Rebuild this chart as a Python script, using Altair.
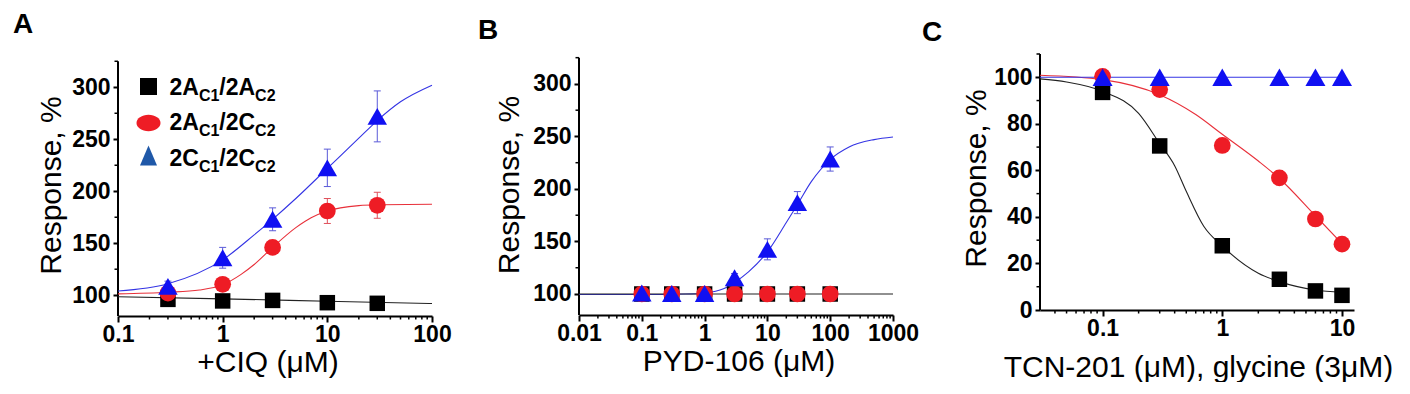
import altair as alt
import pandas as pd

FONT = "Liberation Sans"
BLACK = "#000000"
RED = "#ee1c25"
BLUE = "#1010f2"
BLUE_LEG = "#1f58a8"
RED_LINE = "#e8303a"
BLUE_LINE = "#3434e4"
RED_ERR = "#e0505a"
BLUE_ERR = "#5a5ad8"

# ---------------- Panel A : +CIQ ----------------
A_X = [0.3, 1, 3, 10, 30]
A_BLACK = [96, 94.5, 95, 92.8, 92.2]
A_RED = [102, 110.5, 146, 181, 186.5]
A_RED_ERR = [3, 3, 4, 12, 12.5]
A_BLUE = [108.5, 136, 173, 222.5, 272]
A_BLUE_ERR = [5, 10, 11, 18, 24.5]
A_BLACK_FIT_X = [0.1, 1, 10, 100]
A_BLACK_FIT_Y = [98.5, 96.5, 94.2, 92]
A_RED_FIT_X = [0.1, 0.3, 0.6, 1, 1.5, 2, 3, 5, 7, 10, 20, 30, 100]
A_RED_FIT_Y = [101.3, 102.8, 105, 110, 120, 129.5, 146, 165, 174.5, 181, 186.2, 187, 187.5]
A_BLUE_FIT_X = [0.1, 0.3, 1, 2, 3, 5, 10, 20, 30, 50, 100]
A_BLUE_FIT_Y = [104, 111, 134, 158, 173, 193, 222, 251, 268, 286, 302]
A_XTICKS = [0.1, 1, 10, 100]
A_XMINOR = [0.2, 0.3, 0.4, 0.5, 0.6, 0.7, 0.8, 0.9, 2, 3, 4, 5, 6, 7, 8, 9,
            20, 30, 40, 50, 60, 70, 80, 90]
A_YTICKS = [100, 150, 200, 250, 300]
A_YMINOR = [125, 175, 225, 275, 325]
A_XTITLE = "+CIQ (μM)"

# ---------------- Panel B : PYD-106 ----------------
B_X = [0.1, 0.3, 1, 3, 10, 30, 100]
B_BLACK = [100, 100, 100, 100, 100, 100, 100]
B_RED = [100, 100, 100, 100, 100, 100, 100]
B_RED_ERR = [4, 4, 4, 4, 4, 4, 4]
B_BLUE = [101, 100.5, 100.5, 115.5, 142.5, 187, 228.5]
B_BLUE_ERR = [3, 3, 3, 4, 10, 10.5, 11.5]
B_BLACK_FIT_X = [0.01, 1000]
B_BLACK_FIT_Y = [100, 100]
B_BLUE_FIT_X = [0.01, 0.1, 0.5, 1, 2, 3, 5, 10, 20, 30, 50, 100, 200, 500, 1000]
B_BLUE_FIT_Y = [99.5, 99.5, 100, 101, 105, 111, 121, 140, 168, 185, 207, 228, 240, 247, 249.5]
B_XTICKS = [0.01, 0.1, 1, 10, 100, 1000]
B_XMINOR = [0.02, 0.03, 0.04, 0.05, 0.06, 0.07, 0.08, 0.09,
            0.2, 0.3, 0.4, 0.5, 0.6, 0.7, 0.8, 0.9,
            2, 3, 4, 5, 6, 7, 8, 9, 20, 30, 40, 50, 60, 70, 80, 90,
            200, 300, 400, 500, 600, 700, 800, 900]
B_YTICKS = [100, 150, 200, 250, 300]
B_YMINOR = [125, 175, 225, 275, 325]
B_XTITLE = "PYD-106 (μM)"

# ---------------- Panel C : TCN-201 ----------------
C_X = [0.1, 0.3, 1, 3, 6, 10]
C_BLACK = [93.5, 70.5, 27.6, 13.2, 8.2, 6.3]
C_RED = [100.4, 94.7, 70.7, 56.8, 39.1, 28.3]
C_RED_ERR = [1, 1, 1, 3, 1.5, 1]
C_BLUE = [100, 100, 100, 100, 100, 100]
C_BLACK_FIT_X = [0.03, 0.05, 0.1, 0.2, 0.3, 0.4, 0.5, 0.7, 1, 2, 3, 6, 10]
C_BLACK_FIT_Y = [99.3, 98, 94, 84.5, 71.5, 62, 51, 36, 27.5, 15.8, 12.2, 8.6, 7.6]
C_RED_FIT_X = [0.03, 0.1, 0.3, 0.6, 1, 2, 3, 6, 10]
C_RED_FIT_Y = [100.9, 99, 92.5, 84, 75.5, 64, 56.5, 40.5, 28.5]
C_BLUE_FIT_X = [0.03, 10]
C_BLUE_FIT_Y = [100, 100]
C_XTICKS = [0.1, 1, 10]
C_XMINOR = [0.04, 0.05, 0.06, 0.07, 0.08, 0.09, 0.2, 0.3, 0.4, 0.5, 0.6, 0.7,
            0.8, 0.9, 2, 3, 4, 5, 6, 7, 8, 9]
C_YTICKS = [0, 20, 40, 60, 80, 100]
C_YMINOR = [10, 30, 50, 70, 90, 110]
C_XTITLE = "TCN-201 (μM), glycine (3μM)"

Y_TITLE = "Response, %"
LEGEND_PARTS = [["2A", "C1", "/2A", "C2"],
                ["2A", "C1", "/2C", "C2"],
                ["2C", "C1", "/2C", "C2"]]

ONE = pd.DataFrame({"k": [0]})
ELLIPSE = "M-1,0A1,0.68 0 1,0 1,0A1,0.68 0 1,0 -1,0Z"
TALL_TRI = "M0,-1L0.85,1L-0.85,1Z"
CAP = "M-1,0L1,0"


def build_panel(letter, letter_pos, xdom, ydom, H, yline, xticks, xminor,
                yticks, yminor, xtitle, xtitle_pos, ytitle_pos,
                curves, points, errors, extra=None):
    W = 314
    xs = alt.Scale(type="log", domain=xdom, nice=False)
    ys = alt.Scale(domain=ydom, nice=False, zero=False)
    xaxis = alt.Axis(values=xticks, format="~g", domain=True, domainWidth=2,
                     tickSize=6, tickWidth=2, labelPadding=1, labelFlush=False,
                     labelOverlap=False, title=xtitle, titleX=xtitle_pos[0],
                     titleY=xtitle_pos[1], titleBaseline="alphabetic",
                     titleAlign="center")
    yaxis = alt.Axis(values=yticks, domain=False, tickSize=5, tickWidth=2,
                     labelPadding=3, labelFlush=False, labelOverlap=False,
                     title=Y_TITLE, titleX=ytitle_pos[0], titleY=ytitle_pos[1],
                     titleAngle=270, titleBaseline="middle", titleAlign="center")
    X = alt.X("x:Q", scale=xs, axis=xaxis)
    Y = alt.Y("y:Q", scale=ys, axis=yaxis)

    layers = []
    # y axis line (data range)
    layers.append(alt.Chart(pd.DataFrame({"y": [yline[0]], "y2": [yline[1]]}))
                  .mark_rule(color=BLACK, strokeWidth=2)
                  .encode(x=alt.value(0), y=Y, y2="y2:Q"))
    # minor ticks
    layers.append(alt.Chart(pd.DataFrame({"x": xminor}))
                  .mark_rule(color=BLACK, strokeWidth=1.5)
                  .encode(x=X, y=alt.value(H), y2=alt.value(H + 3.5)))
    layers.append(alt.Chart(pd.DataFrame({"y": yminor}))
                  .mark_rule(color=BLACK, strokeWidth=1.5)
                  .encode(y=Y, x=alt.value(0), x2=alt.value(-3.5)))
    # fitted curves
    for cx, cy, col in curves:
        layers.append(alt.Chart(pd.DataFrame({"x": cx, "y": cy}))
                      .mark_line(color=col, strokeWidth=1.1, interpolate="monotone")
                      .encode(x=X, y=Y))
    # error bars
    for ex, ey, ee, col in errors:
        lo = [v - e for v, e in zip(ey, ee)]
        hi = [v + e for v, e in zip(ey, ee)]
        layers.append(alt.Chart(pd.DataFrame({"x": ex, "y": lo, "y2": hi}))
                      .mark_rule(color=col, strokeWidth=1)
                      .encode(x=X, y=Y, y2="y2:Q"))
        layers.append(alt.Chart(pd.DataFrame({"x": ex + ex, "y": lo + hi}))
                      .mark_point(shape=CAP, size=49, filled=False, color=col,
                                  strokeWidth=1, opacity=1)
                      .encode(x=X, y=Y))
    # data markers
    for px, py, shape, size, col in points:
        layers.append(alt.Chart(pd.DataFrame({"x": px, "y": py}))
                      .mark_point(shape=shape, size=size, filled=True, color=col,
                                  opacity=1, strokeWidth=0)
                      .encode(x=X, y=Y))
    # panel letter
    layers.append(alt.Chart(ONE).mark_text(text=letter, font=FONT, fontSize=28,
                                           fontWeight="bold", align="left",
                                           baseline="alphabetic", color=BLACK)
                  .encode(x=alt.value(letter_pos[0]), y=alt.value(letter_pos[1])))
    if extra:
        layers.extend(extra)
    return alt.layer(*layers).properties(width=W, height=H)


# ---- legend for panel A (positions relative to panel A plot origin) ----
legend_layers = []
# invisible anchor fixing the top-left of the whole figure
legend_layers.append(alt.Chart(ONE).mark_rule(opacity=0, color="white")
                     .encode(x=alt.value(-109.5), x2=alt.value(-108.5),
                             y=alt.value(-45.5), y2=alt.value(-45.5)))
sym_specs = [("square", 289, BLACK, 32.5),
             (ELLIPSE, 576, RED, 69),
             (TALL_TRI, 400, BLUE_LEG, 101.5)]
for shape, size, col, yy in sym_specs:
    legend_layers.append(alt.Chart(ONE).mark_point(shape=shape, size=size, filled=True,
                                                   color=col, opacity=1, strokeWidth=0)
                         .encode(x=alt.value(30.5), y=alt.value(yy)))
piece_dx = [0, 29.4, 49.8, 85.6]
piece_size = [23, 16, 23, 16]
piece_dy = [0, 6, 0, 6]
baselines = [40.5, 76, 111.5]
for parts, base in zip(LEGEND_PARTS, baselines):
    for txt, dx, fs, dy in zip(parts, piece_dx, piece_size, piece_dy):
        legend_layers.append(alt.Chart(ONE).mark_text(text=txt, font=FONT, fontSize=fs,
                                                      fontWeight="bold", align="left",
                                                      baseline="alphabetic", color=BLACK)
                             .encode(x=alt.value(51.5 + dx), y=alt.value(base + dy)))

panel_a = build_panel(
    "A", (-105, -21.5), [0.1, 100], [80, 332], 262, (80, 325),
    A_XTICKS, A_XMINOR, A_YTICKS, A_YMINOR, A_XTITLE, (149.5, 55.5), (-66.5, 131),
    curves=[(A_BLACK_FIT_X, A_BLACK_FIT_Y, "#222222"),
            (A_RED_FIT_X, A_RED_FIT_Y, RED_LINE),
            (A_BLUE_FIT_X, A_BLUE_FIT_Y, BLUE_LINE)],
    points=[(A_X, A_BLACK, "square", 240, BLACK),
            (A_X, A_RED, "circle", 280, RED),
            (A_X, A_BLUE, "triangle-up", 380, BLUE)],
    errors=[(A_X, A_RED, A_RED_ERR, RED_ERR),
            (A_X, A_BLUE, A_BLUE_ERR, BLUE_ERR)],
    extra=legend_layers)

panel_b = build_panel(
    "B", (-101, -15), [0.01, 1000], [80, 328.5], 261, (80, 325),
    B_XTICKS, B_XMINOR, B_YTICKS, B_YMINOR, B_XTITLE, (159.5, 55.5), (-69.5, 130.5),
    curves=[(B_BLUE_FIT_X, B_BLUE_FIT_Y, BLUE_LINE),
            (B_BLACK_FIT_X, B_BLACK_FIT_Y, "#222222")],
    points=[(B_X, B_BLACK, "square", 240, BLACK),
            (B_X, B_RED, "circle", 280, RED),
            (B_X, B_BLUE, "triangle-up", 380, BLUE)],
    errors=[(B_X, B_RED, B_RED_ERR, "#703040"),
            (B_X, B_BLUE, B_BLUE_ERR, BLUE_ERR)])

panel_c = build_panel(
    "C", (-118, -13.5), [0.03, 12.6], [0, 110], 256, (0, 110),
    C_XTICKS, C_XMINOR, C_YTICKS, C_YMINOR, C_XTITLE, (158, 66), (-63.5, 124),
    curves=[(C_BLACK_FIT_X, C_BLACK_FIT_Y, "#222222"),
            (C_RED_FIT_X, C_RED_FIT_Y, RED_LINE),
            (C_BLUE_FIT_X, C_BLUE_FIT_Y, BLUE_LINE)],
    points=[(C_X, C_BLACK, "square", 240, BLACK),
            (C_X, C_RED, "circle", 280, RED),
            (C_X, C_BLUE, "triangle-up", 400, BLUE)],
    errors=[(C_X, C_RED, C_RED_ERR, RED_ERR)])

chart = (alt.hconcat(panel_a, panel_b, panel_c, spacing=147, bounds="flush")
         .properties(padding=0, background="white")
         .configure_view(stroke=None)
         .configure_axis(labelFont=FONT, labelFontSize=23, labelFontWeight="bold",
                         labelColor=BLACK, titleFont=FONT, titleFontSize=30,
                         titleFontWeight="normal", titleColor=BLACK,
                         tickColor=BLACK, domainColor=BLACK, grid=False))

chart.save("out.html", embed_options={"renderer": "svg", "actions": False})
